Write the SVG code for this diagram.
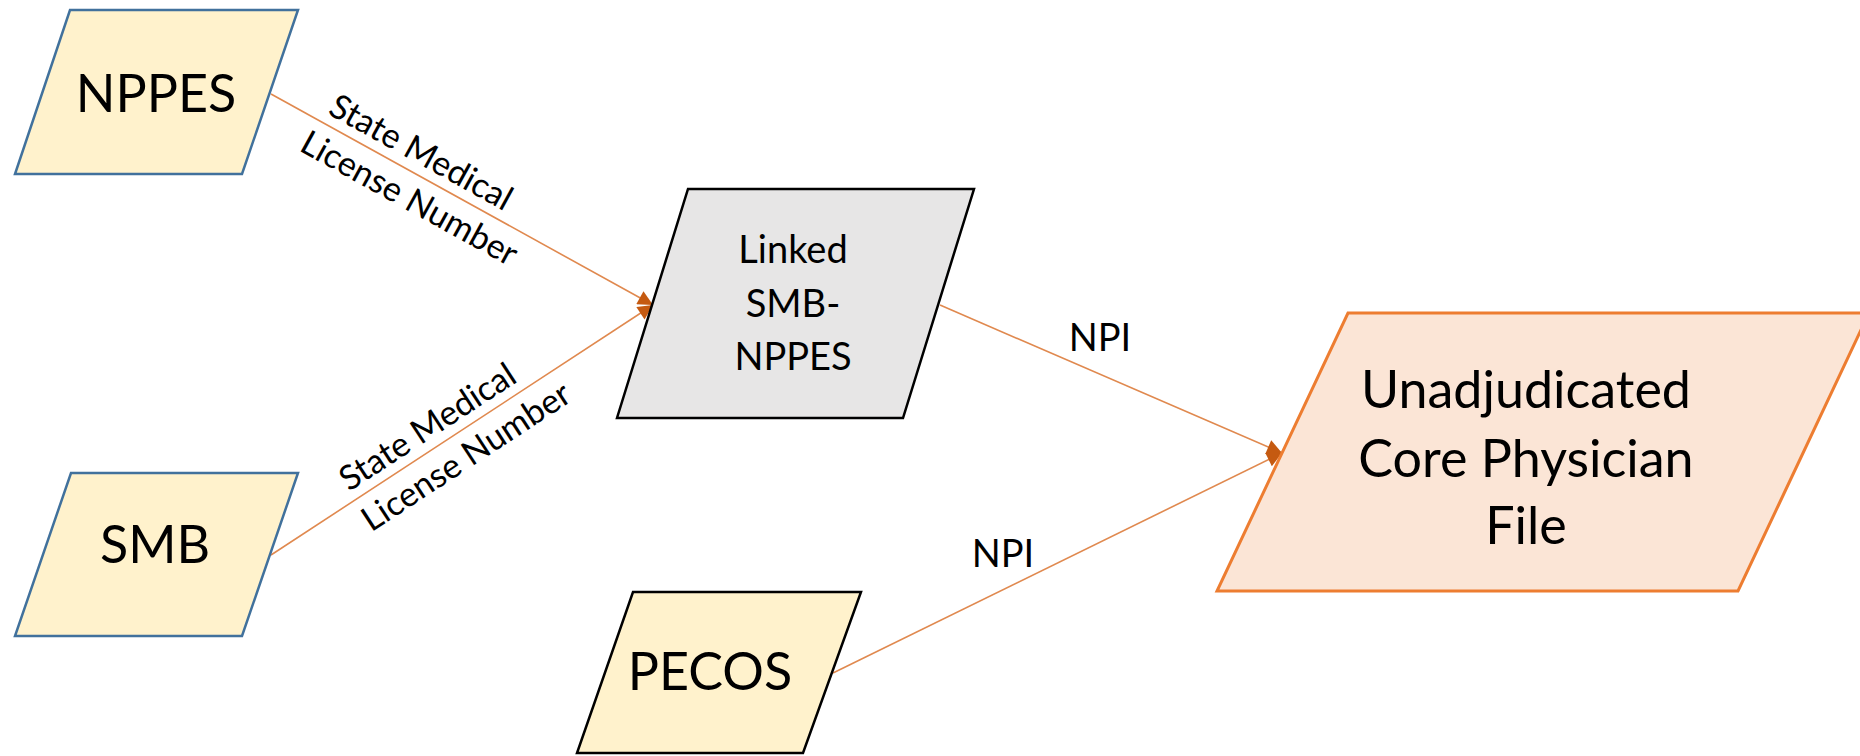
<svg xmlns="http://www.w3.org/2000/svg" width="1860" height="756" viewBox="0 0 1860 756">
<style>
  .txt { font-family: Lato, "Open Sans", "Liberation Sans", sans-serif; fill: #000; text-anchor: middle; }
  .big { font-size: 52px; }
  .mid { font-size: 38px; }
  .lbl { font-size: 34px; }
  .src { fill: #fff2cc; stroke: #41719c; stroke-width: 2.5; }
  .pecos { fill: #fff2cc; stroke: #000; stroke-width: 2.5; }
  .linked { fill: #e7e6e6; stroke: #000; stroke-width: 2.5; }
  .out { fill: #fbe5d6; stroke: #ed7d31; stroke-width: 3; }
  .edge { stroke: #e0894f; stroke-width: 1.6; fill: none; }
</style>
<defs>
  <marker id="arr" viewBox="0 0 10 10" refX="10" refY="5" markerWidth="18" markerHeight="15" markerUnits="userSpaceOnUse" orient="auto">
    <path d="M0,0 L10,5 L0,10 z" fill="#c55a11"/>
  </marker>
</defs>
<rect width="1860" height="756" fill="#fff"/>

<g id="connectors">
  <line class="edge" x1="271" y1="94" x2="653" y2="305" marker-end="url(#arr)"/>
  <line class="edge" x1="271" y1="555" x2="653" y2="305" marker-end="url(#arr)"/>
  <line class="edge" x1="940" y1="305" x2="1282" y2="453" marker-end="url(#arr)"/>
  <line class="edge" x1="833" y1="673" x2="1282" y2="453" marker-end="url(#arr)"/>
  <g transform="translate(416,174) rotate(28.9)">
    <text class="txt lbl" x="-6" y="-10">State Medical</text>
    <text class="txt lbl" x="6" y="36">License Number</text>
  </g>
  <g transform="translate(446,440.5) rotate(-33.2)">
    <text class="txt lbl" x="-8" y="-10">State Medical</text>
    <text class="txt lbl" x="8" y="36">License Number</text>
  </g>
  <text class="txt mid" x="1100" y="351">NPI</text>
  <text class="txt mid" x="1003" y="567">NPI</text>
</g>

<g id="nppes">
  <polygon class="src" points="70,10 298,10 242,174 15,174"/>
  <text class="txt big" x="156" y="112">NPPES</text>
</g>
<g id="smb">
  <polygon class="src" points="71,473 298,473 242,636 15,636"/>
  <text class="txt big" x="155" y="563">SMB</text>
</g>
<g id="linked">
  <polygon class="linked" points="688,189 974,189 903,418 617,418"/>
  <text class="txt mid" x="793" y="263">Linked</text>
  <text class="txt mid" x="793" y="317">SMB-</text>
  <text class="txt mid" x="793" y="370">NPPES</text>
</g>
<g id="pecos">
  <polygon class="pecos" points="633,592 861,592 803,753 577,753"/>
  <text class="txt big" x="710" y="690">PECOS</text>
</g>
<g id="core">
  <polygon class="out" points="1348,313 1869,313 1738,591 1217,591"/>
  <text class="txt big" x="1526" y="408">Unadjudicated</text>
  <text class="txt big" x="1526" y="477">Core Physician</text>
  <text class="txt big" x="1526" y="544">File</text>
</g>
</svg>
